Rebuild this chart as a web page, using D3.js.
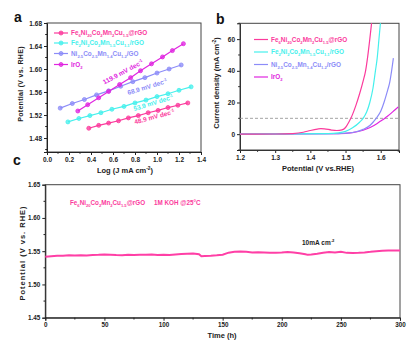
<!DOCTYPE html>
<html><head><meta charset="utf-8">
<script src="https://cdn.jsdelivr.net/npm/d3@7"></script>
<style>
body{margin:0;background:#fff}
svg{display:block}
text{font-family:"Liberation Sans",Arial,sans-serif;font-weight:bold}
</style></head>
<body><svg id="chart" width="414" height="350"></svg>
<script>
// ---------- DATA ----------
const seriesNamesA = ["Fe_{6}Ni_{20}Co_{2}Mn_{2}Cu_{1.5}@rGO","Fe_{2}Ni_{2}Co_{2}Mn_{1.5}Cu_{1.1}/rGO","Ni_{2.5}Co_{2.5}Mn_{1.4}Cu_{1.2}/GO","IrO_{2}"];
const seriesNamesB = ["Fe_{6}Ni_{20}Co_{2}Mn_{2}Cu_{1.5}@rGO","Fe_{2}Ni_{2}Co_{2}Mn_{1.5}Cu_{1.1}/rGO","Ni_{2.5}Co_{2.5}Mn_{1.4}Cu_{1.2}/rGO","IrO_{2}"];
const seriesColors = ["#fb3a9c","#45f0ec","#8c8cf8","#e026e0"];

// panel a: Tafel
const tafelX_fe6 = [0.38,0.47,0.56,0.65,0.74,0.83,0.92,1.01,1.10,1.19,1.28];
const tafelY_fe6 = [1.497,1.502,1.506,1.510,1.515,1.519,1.524,1.528,1.533,1.537,1.541];
const tafelX_fe2 = [0.19,0.29,0.39,0.49,0.59,0.70,0.80,0.90,1.00,1.10,1.20,1.31];
const tafelY_fe2 = [1.508,1.514,1.519,1.524,1.530,1.535,1.541,1.546,1.552,1.557,1.563,1.569];
const tafelX_ni  = [0.12,0.23,0.34,0.45,0.56,0.67,0.78,0.89,1.00,1.11,1.22];
const tafelY_ni  = [1.532,1.540,1.547,1.555,1.562,1.570,1.578,1.585,1.593,1.600,1.607];
const tafelX_ir  = [0.28,0.37,0.47,0.56,0.66,0.76,0.85,0.95,1.05,1.14,1.24];
const tafelY_ir  = [1.527,1.538,1.550,1.561,1.573,1.585,1.597,1.609,1.621,1.632,1.644];
const tafelSlopes = ["119.9 mV dec^{-1}","68.9 mV dec^{-1}","53.9 mV dec^{-1}","48.9 mV dec^{-1}"];
const tickA_x = [0.0,0.2,0.4,0.6,0.8,1.0,1.2,1.4];
const tickA_y = [1.48,1.52,1.56,1.60,1.64,1.68];

// panel b: LSV
const lsvV_fe6 = [1.20,1.30,1.35,1.38,1.40,1.42,1.43,1.44,1.46,1.475,1.49,1.50,1.51,1.515,1.52,1.53,1.54,1.55,1.557,1.563,1.569,1.575];
const lsvJ_fe6 = [0,0.1,0.4,1.2,2.3,3.2,3.5,3.4,2.6,2.3,2.7,4.2,7.8,10,12.5,18.5,25.5,33.5,40,49,60,72];
const lsvV_fe2 = [1.20,1.45,1.48,1.50,1.52,1.54,1.55,1.56,1.569,1.578,1.585,1.59,1.595,1.60];
const lsvJ_fe2 = [0,0.3,0.8,1.8,4,7.5,10,14,20,29,40,48,60,72];
const lsvV_ni  = [1.20,1.48,1.50,1.53,1.55,1.57,1.58,1.59,1.60,1.61,1.62,1.625,1.631,1.636];
const lsvJ_ni  = [0,0.3,0.6,1.5,3,5.6,8,10.8,14.5,20.5,28,32,40,48];
const lsvV_ir  = [1.20,1.48,1.52,1.55,1.57,1.59,1.60,1.61,1.62,1.63,1.64,1.65];
const lsvJ_ir  = [0,0.3,1,2.5,4.2,6.8,8.3,9.8,11.5,13.3,15.3,17.2];
const tickB_x = [1.2,1.3,1.4,1.5,1.6];
const tickB_y = [0,20,40,60];
const refCurrent = 10;

// panel c: stability
const stabT = [0,5,10,15,20,25,30,35,40,45,50,55,60,65,70,75,80,85,90,95,100,105,110,115,120,125,130,132,135,140,145,150,155,160,165,170,175,180,185,190,195,200,205,210,215,220,222,225,230,235,240,245,250,255,260,265,270,275,280,285,290,295,300];
const stabV = [1.5415,1.5425,1.5432,1.5430,1.5438,1.5434,1.5440,1.5436,1.5444,1.5446,1.5450,1.5447,1.5442,1.5440,1.5445,1.5443,1.5448,1.5446,1.5450,1.5444,1.5446,1.5443,1.5452,1.5458,1.5462,1.5466,1.5455,1.5425,1.5428,1.5432,1.5438,1.5446,1.5478,1.5490,1.5496,1.5490,1.5480,1.5484,1.5482,1.5478,1.5475,1.5480,1.5488,1.5482,1.5470,1.5455,1.5445,1.5450,1.5462,1.5478,1.5488,1.5482,1.5490,1.5475,1.5472,1.5476,1.5482,1.5490,1.5500,1.5508,1.5510,1.5512,1.5510];
const tickC_x = [0,50,100,150,200,250,300];
const tickC_y = [1.45,1.50,1.55,1.60,1.65];

// ---------- HELPERS ----------
const svg = d3.select("#chart");
function rich(sel, str, fs){
  const re = /([_^])\{([^}]*)\}|([^_^]+)/g;
  let m, shift = 0;
  while((m = re.exec(str)) !== null){
    if(m[3] !== undefined){
      sel.append("tspan").attr("dy", -shift).attr("font-size", fs).text(m[3]);
      shift = 0;
    } else {
      const s = m[1] === "_" ? fs*0.3 : -fs*0.4;
      sel.append("tspan").attr("dy", s - shift).attr("font-size", fs*0.65).text(m[2]);
      shift = s;
    }
  }
  return sel;
}
function frame(g, x0, y0, x1, y1){
  g.append("rect").attr("x",x0).attr("y",y0).attr("width",x1-x0).attr("height",y1-y0)
   .attr("fill","none").attr("stroke","#444").attr("stroke-width",1);
}
function styleAxis(g, fs){
  g.selectAll("path").attr("stroke","#222").attr("stroke-width",1);
  g.selectAll("line").attr("stroke","#222");
  g.selectAll("text").attr("font-size",fs).attr("font-family","Liberation Sans, Arial, sans-serif").attr("font-weight","bold").attr("fill","#222");
}

// ---------- PANEL A ----------
{
  const L=47,R=201,T=23,B=152;
  const x = d3.scaleLinear().domain([0,1.4]).range([L,R]);
  const y = d3.scaleLinear().domain([1.4557,1.68]).range([B,T]);
  const g = svg.append("g");
  frame(g,L,T,R,B);
  const gx = g.append("g").attr("transform",`translate(0,${B})`)
    .call(d3.axisBottom(x).tickValues(tickA_x).tickFormat(d3.format(".1f")).tickSize(3).tickPadding(2));
  styleAxis(gx,6.5);
  const gy = g.append("g").attr("transform",`translate(${L},0)`)
    .call(d3.axisLeft(y).tickValues(tickA_y).tickFormat(d3.format(".2f")).tickSize(3).tickPadding(2));
  styleAxis(gy,6.5);
  g.append("g").selectAll("line").data([0.1,0.3,0.5,0.7,0.9,1.1,1.3]).join("line")
    .attr("x1",d=>x(d)).attr("x2",d=>x(d)).attr("y1",B).attr("y2",B+1.8).attr("stroke","#222");
  g.append("g").selectAll("line").data([1.46,1.50,1.54,1.58,1.62,1.66]).join("line")
    .attr("y1",d=>y(d)).attr("y2",d=>y(d)).attr("x1",L).attr("x2",L-1.8).attr("stroke","#222");

  const sets = [[tafelX_fe6,tafelY_fe6],[tafelX_fe2,tafelY_fe2],[tafelX_ni,tafelY_ni],[tafelX_ir,tafelY_ir]];
  const line = d3.line().x(d=>x(d[0])).y(d=>y(d[1]));
  sets.forEach((s,i)=>{
    const pts = s[0].map((v,k)=>[v,s[1][k]]);
    g.append("path").datum(pts).attr("d",line).attr("fill","none").attr("stroke",seriesColors[i]).attr("stroke-width",1.2);
    g.append("g").selectAll("circle").data(pts).join("circle")
      .attr("cx",d=>x(d[0])).attr("cy",d=>y(d[1])).attr("r",2)
      .attr("fill",seriesColors[i]).attr("fill-opacity",0.75).attr("stroke",seriesColors[i]).attr("stroke-width",0.8);
  });
  const legY = [33,43,53.5,64.5];
  seriesNamesA.forEach((n,i)=>{
    g.append("line").attr("x1",54).attr("x2",68).attr("y1",legY[i]).attr("y2",legY[i]).attr("stroke",seriesColors[i]).attr("stroke-width",1.2);
    g.append("circle").attr("cx",61).attr("cy",legY[i]).attr("r",2).attr("fill",seriesColors[i]).attr("fill-opacity",0.75).attr("stroke",seriesColors[i]).attr("stroke-width",0.8);
    rich(g.append("text").attr("x",71).attr("y",legY[i]+2.3).attr("fill",seriesColors[i]), n, 6.4);
  });
  const slopePos = [[124,74,-28,3],[148,89,-17,2],[154,105,-17,1],[155,119,-15,0]];
  slopePos.forEach((p,i)=>{
    rich(g.append("text").attr("transform",`translate(${p[0]},${p[1]}) rotate(${p[2]})`).attr("text-anchor","middle")
      .attr("dy",2.2).attr("fill",seriesColors[p[3]]), tafelSlopes[i], 6.5);
  });
  rich(g.append("text").attr("x",125).attr("y",173).attr("text-anchor","middle").attr("fill","#222"),"Log (J mA cm^{-2})",7.5);
  g.append("text").attr("transform",`translate(23,84) rotate(-90)`).attr("text-anchor","middle")
    .attr("font-size",7).attr("fill","#222").attr("letter-spacing",0.3).text("Potential (V vs. RHE)");
  g.append("text").attr("x",14).attr("y",22).attr("font-size",14).attr("fill","#111").text("a");
  g.append("text").attr("x",13).attr("y",165).attr("font-size",14).attr("fill","#111").text("c");
}

// ---------- PANEL B ----------
{
  const L=240,R=399,T=23.3,B=150;
  const x = d3.scaleLinear().domain([1.2,1.652]).range([L,R]);
  const y = d3.scaleLinear().domain([-10,70]).range([B,T]);
  const g = svg.append("g");
  const clipId = "clipB";
  g.append("clipPath").attr("id",clipId).append("rect").attr("x",L).attr("y",T).attr("width",R-L).attr("height",B-T);
  const gx = g.append("g").attr("transform",`translate(0,${B})`)
    .call(d3.axisBottom(x).tickValues(tickB_x).tickFormat(d3.format(".1f")).tickSize(3).tickPadding(2));
  styleAxis(gx,6.5);
  const gy = g.append("g").attr("transform",`translate(${L},0)`)
    .call(d3.axisLeft(y).tickValues(tickB_y).tickSize(3).tickPadding(2));
  styleAxis(gy,6.5);
  g.append("g").selectAll("line").data([1.25,1.35,1.45,1.55,1.65]).join("line")
    .attr("x1",d=>x(d)).attr("x2",d=>x(d)).attr("y1",B).attr("y2",B+1.8).attr("stroke","#222");
  g.append("g").selectAll("line").data([-10,10,30,50,70]).join("line")
    .attr("y1",d=>y(d)).attr("y2",d=>y(d)).attr("x1",L).attr("x2",L-1.8).attr("stroke","#222");
  frame(g,L,T,R,B);
  g.append("line").attr("x1",L).attr("x2",R).attr("y1",y(refCurrent)).attr("y2",y(refCurrent))
    .attr("stroke","#999").attr("stroke-width",0.9).attr("stroke-dasharray","3,2");
  const sets = [[lsvV_fe6,lsvJ_fe6],[lsvV_fe2,lsvJ_fe2],[lsvV_ni,lsvJ_ni],[lsvV_ir,lsvJ_ir]];
  const line = d3.line().x(d=>x(d[0])).y(d=>y(d[1])).curve(d3.curveMonotoneX);
  [3,2,1,0].forEach(i=>{
    const s = sets[i];
    const pts = s[0].map((v,k)=>[v,s[1][k]]);
    g.append("path").datum(pts).attr("d",line).attr("clip-path",`url(#${clipId})`)
      .attr("fill","none").attr("stroke",seriesColors[i]).attr("stroke-width",1.2);
  });
  const legY = [39.5,52,64.5,77];
  seriesNamesB.forEach((n,i)=>{
    g.append("line").attr("x1",254).attr("x2",268).attr("y1",legY[i]).attr("y2",legY[i]).attr("stroke",seriesColors[i]).attr("stroke-width",1.2);
    rich(g.append("text").attr("x",271).attr("y",legY[i]+2.3).attr("fill",seriesColors[i]), n, 6.4);
  });
  rich(g.append("text").attr("transform","translate(219,83) rotate(-90)").attr("text-anchor","middle").attr("fill","#222"),"Current density (mA cm^{-2})",7.5);
  g.append("text").attr("x",318).attr("y",171).attr("text-anchor","middle").attr("font-size",7.5).attr("fill","#222").text("Potential (V vs.RHE)");
  g.append("text").attr("x",216).attr("y",24).attr("font-size",14).attr("fill","#111").text("b");
}

// ---------- PANEL C ----------
{
  const L=45.3,R=400,T=184.7,B=317.7;
  const x = d3.scaleLinear().domain([0,300]).range([L,R]);
  const y = d3.scaleLinear().domain([1.45,1.65]).range([B,T]);
  const g = svg.append("g");
  frame(g,L,T,R,B);
  const gx = g.append("g").attr("transform",`translate(0,${B})`)
    .call(d3.axisBottom(x).tickValues(tickC_x).tickSize(3).tickPadding(2));
  styleAxis(gx,6.3);
  const gy = g.append("g").attr("transform",`translate(${L},0)`)
    .call(d3.axisLeft(y).tickValues(tickC_y).tickFormat(d3.format(".2f")).tickSize(3).tickPadding(2));
  styleAxis(gy,6.3);
  g.append("g").selectAll("line").data([25,75,125,175,225,275]).join("line")
    .attr("x1",d=>x(d)).attr("x2",d=>x(d)).attr("y1",B).attr("y2",B+1.8).attr("stroke","#222");
  g.append("g").selectAll("line").data([1.475,1.525,1.575,1.625]).join("line")
    .attr("y1",d=>y(d)).attr("y2",d=>y(d)).attr("x1",L).attr("x2",L-1.8).attr("stroke","#222");
  const pts = stabT.map((t,k)=>[t,stabV[k]]);
  g.append("path").datum(pts).attr("d",d3.line().x(d=>x(d[0])).y(d=>y(d[1])))
    .attr("fill","none").attr("stroke","#ff3fa6").attr("stroke-width",2);
  rich(g.append("text").attr("x",70).attr("y",205).attr("fill","#fb3a9c"),"Fe_{6}Ni_{20}Co_{2}Mn_{2}Cu_{1.5}@rGO",6.3);
  g.append("text").attr("x",154).attr("y",205).attr("font-size",6.3).attr("fill","#fb3a9c").text("1M KOH @25°C");
  rich(g.append("text").attr("x",302).attr("y",245).attr("fill","#222"),"10mA cm^{-2}",6.5);
  g.append("text").attr("x",222).attr("y",338).attr("text-anchor","middle").attr("font-size",7.5).attr("fill","#222").text("Time (h)");
  g.append("text").attr("transform","translate(25,253) rotate(-90)").attr("text-anchor","middle")
    .attr("font-size",7.5).attr("letter-spacing",1).attr("fill","#222").text("Potential  (V vs. RHE)");
}
</script></body></html>
